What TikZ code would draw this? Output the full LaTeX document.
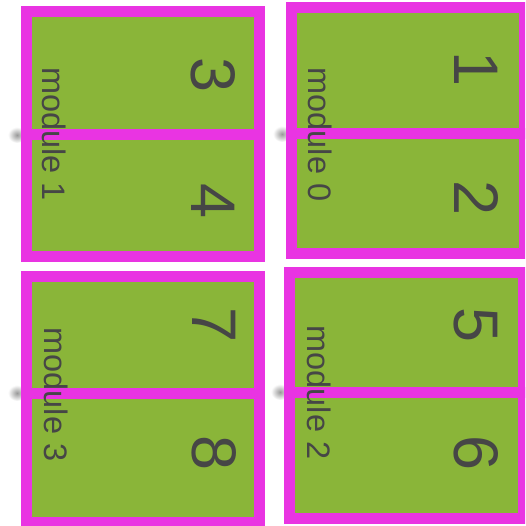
\documentclass[tikz,border=0pt]{standalone}
\usepackage{fontspec}
\setmainfont{Liberation Sans}
\definecolor{mag}{RGB}{233,52,226}
\definecolor{grn}{RGB}{138,181,57}
\definecolor{txt}{RGB}{70,70,70}
\begin{document}
\begin{tikzpicture}[x=1pt,y=-1pt,
  half/.style={draw=mag,fill=grn,line width=11pt,rectangle},
  digit/.style={text=txt,font=\fontsize{63}{63}\selectfont,rotate=-90,inner sep=0pt},
  modlabel/.style={text=txt,font=\fontsize{32.5}{32.5}\selectfont,rotate=-90,inner sep=0pt},
  blur/.style={inner color=black!40,outer color=white}]
\useasboundingbox (0,0) rectangle (525,526);
\begin{scope}
\clip (0,0) rectangle (525,526);
% shadows near dividers
\shade[blur] (17,135) ellipse [x radius=9pt, y radius=8pt];
\shade[blur] (282,134) ellipse [x radius=9pt, y radius=8pt];
\shade[blur] (17,393) ellipse [x radius=9pt, y radius=8pt];
\shade[blur] (280,392) ellipse [x radius=9pt, y radius=8pt];
% module 1
\path[half] (26.5,11.5) rectangle (259.5,135) coordinate (m1a);
\path[half] (26.5,135) rectangle (259.5,256.5) coordinate (m1b);
% module 0
\path[half] (291,8) rectangle (524.5,134) coordinate (m0a);
\path[half] (291,134) rectangle (524.5,253.5) coordinate (m0b);
% module 3
\path[half] (26.5,276.5) rectangle (259.5,393) coordinate (m3a);
\path[half] (26.5,393) rectangle (259.5,522.5) coordinate (m3b);
% module 2
\path[half] (289,272) rectangle (523.5,392) coordinate (m2a);
\path[half] (289,392) rectangle (523.5,518) coordinate (m2b);
\end{scope}
% digits
\node[digit] (n3) at (213.5,75.5) {3};
\node[digit] (n4) at (213.5,201.5) {4};
\node[digit] (n1) at (476.5,69) {1};
\node[digit] (n2) at (476.5,198) {2};
\node[digit] (n7) at (214.5,325) {7};
\node[digit] (n8) at (214.5,453) {8};
\node[digit] (n5) at (476,325) {5};
\node[digit] (n6) at (476,453) {6};
% module labels
\node[modlabel] (l1) at (54,134) {module 1};
\node[modlabel] (l0) at (320,134.5) {module 0};
\node[modlabel] (l3) at (56,394.5) {module 3};
\node[modlabel] (l2) at (319,392.5) {module 2};
\end{tikzpicture}
\end{document}
